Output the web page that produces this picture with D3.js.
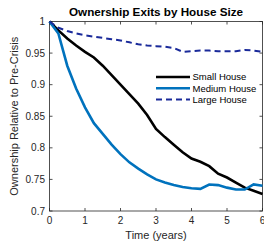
<!DOCTYPE html>
<html>
<head>
<style>
  body { margin: 0; background: #fff; }
  text { font-family: "Liberation Sans", Arial, sans-serif; fill: #262626; }
</style>
</head>
<body>
<svg width="264" height="242" id="chart"></svg>
<script src="https://d3js.org/d3.v7.min.js"></script>
<script>
// years after crisis
var years = [0, 0.25, 0.5, 0.75, 1, 1.25, 1.5, 1.75, 2, 2.25, 2.5, 2.75, 3,
             3.25, 3.5, 3.75, 4, 4.25, 4.5, 4.75, 5, 5.25, 5.5, 5.75, 6];
var smallHouse = [1, 0.986, 0.973, 0.962, 0.952, 0.943, 0.93, 0.915, 0.9, 0.885, 0.87, 0.852, 0.83,
                  0.817, 0.805, 0.793, 0.783, 0.778, 0.771, 0.759, 0.753, 0.745, 0.737, 0.732, 0.727];
var mediumHouse = [1, 0.981, 0.93, 0.894, 0.864, 0.839, 0.822, 0.805, 0.79, 0.777, 0.767, 0.758, 0.75,
                   0.745, 0.741, 0.738, 0.736, 0.735, 0.742, 0.741, 0.737, 0.734, 0.734, 0.742, 0.74];
var largeHouse = [1, 0.99, 0.985, 0.981, 0.978, 0.976, 0.974, 0.972, 0.97, 0.967, 0.964, 0.962, 0.961,
                  0.96, 0.958, 0.952, 0.953, 0.954, 0.954, 0.953, 0.953, 0.953, 0.955, 0.954, 0.952];
var seriesNames = ["Small House", "Medium House", "Large House"];
var xTicks = [0, 1, 2, 3, 4, 5, 6];
var yTicks = [0.7, 0.75, 0.8, 0.85, 0.9, 0.95, 1];

var svg = d3.select("#chart");
var pLeft = 49.5, pRight = 262.5, pTop = 21.5, pBottom = 211;

var x = d3.scaleLinear().domain([0, 6]).range([pLeft, pRight]);
var y = d3.scaleLinear().domain([0.7, 1]).range([pBottom, pTop]);

var axisColor = "#262626";

// ticks (inward, all four sides)
var tk = 3;
xTicks.forEach(function(t) {
  svg.append("line").attr("x1", x(t)).attr("x2", x(t)).attr("y1", pBottom).attr("y2", pBottom - tk)
    .attr("stroke", axisColor).attr("stroke-width", 0.8);
  svg.append("line").attr("x1", x(t)).attr("x2", x(t)).attr("y1", pTop).attr("y2", pTop + tk)
    .attr("stroke", axisColor).attr("stroke-width", 0.8);
  svg.append("text").attr("x", x(t)).attr("y", 224).attr("text-anchor", "middle")
    .attr("font-size", "10px").text(d3.format("d")(t));
});
yTicks.forEach(function(v) {
  svg.append("line").attr("x1", pLeft).attr("x2", pLeft + tk).attr("y1", y(v)).attr("y2", y(v))
    .attr("stroke", axisColor).attr("stroke-width", 0.8);
  svg.append("line").attr("x1", pRight).attr("x2", pRight - tk).attr("y1", y(v)).attr("y2", y(v))
    .attr("stroke", axisColor).attr("stroke-width", 0.8);
  svg.append("text").attr("x", 45).attr("y", y(v) + 3.5).attr("text-anchor", "end")
    .attr("font-size", "10px").text(String(v));
});

// box
svg.append("rect").attr("x", pLeft).attr("y", pTop).attr("width", pRight - pLeft).attr("height", pBottom - pTop)
  .attr("fill", "none").attr("stroke", axisColor).attr("stroke-width", 0.8);

var line = d3.line().x(function(d) { return x(d[0]); }).y(function(d) { return y(d[1]); });

var series = [
  { name: seriesNames[0], vals: smallHouse, color: "#000000", width: 2.6, dash: null },
  { name: seriesNames[1], vals: mediumHouse, color: "#0072BD", width: 2.6, dash: null },
  { name: seriesNames[2], vals: largeHouse, color: "#1a2a9a", width: 2, dash: "6,4" }
];

series.forEach(function(s) {
  svg.append("path")
    .datum(d3.zip(years, s.vals))
    .attr("d", line)
    .attr("fill", "none")
    .attr("stroke", s.color)
    .attr("stroke-width", s.width)
    .attr("stroke-dasharray", s.dash);
});

// legend
series.forEach(function(s, i) {
  var ly = 77 + i * 11.2;
  svg.append("line").attr("x1", 156).attr("x2", 190).attr("y1", ly).attr("y2", ly)
    .attr("stroke", s.color).attr("stroke-width", s.width).attr("stroke-dasharray", s.dash);
  svg.append("text").attr("x", 192.5).attr("y", ly + 3.4).attr("font-size", "9.5px")
    .style("fill", "#000").text(s.name);
});

// title and labels
svg.append("text").attr("x", 156).attr("y", 16).attr("text-anchor", "middle")
  .attr("font-size", "11.7px").attr("font-weight", "bold").style("fill", "#000")
  .text("Ownership Exits by House Size");
svg.append("text").attr("x", 156).attr("y", 239).attr("text-anchor", "middle")
  .attr("font-size", "11px").text("Time (years)");
svg.append("text").attr("transform", "translate(18," + ((pTop + pBottom) / 2) + ") rotate(-90)")
  .attr("text-anchor", "middle").attr("font-size", "11px")
  .text("Ownership Relative to Pre-Crisis");
</script>
</body>
</html>
